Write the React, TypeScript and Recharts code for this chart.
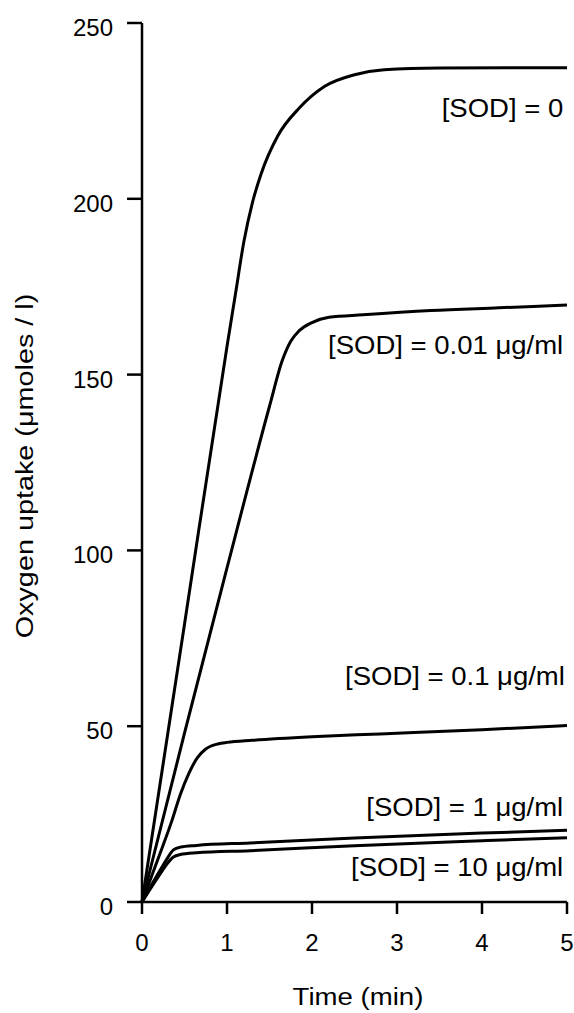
import React from "react";
import { LineChart, Line, XAxis, YAxis, ReferenceDot } from "recharts";

const FONT = "'Liberation Sans', Arial, Helvetica, sans-serif";

// time (min) and oxygen uptake (µmoles / l) for each SOD concentration
const timeSod0 = [0, 0.5, 1.0, 1.1, 1.2, 1.3, 1.4, 1.6, 1.85, 2.15, 2.5, 2.85, 3.5, 5];
const uptakeSod0 = [0, 79, 158, 173, 188, 199, 207, 218, 225.8, 232, 235.3, 236.7, 237.2, 237.3];

const timeSod001 = [0, 0.5, 1.0, 1.5, 1.65, 1.75, 1.85, 2.0, 2.2, 2.6, 3.4, 4.2, 5];
const uptakeSod001 = [0, 48, 95, 141, 154, 159.5, 162.5, 164.8, 166.3, 167, 168.2, 169, 169.8];

const timeSod01 = [0, 0.2, 0.35, 0.45, 0.55, 0.65, 0.75, 0.9, 1.0, 1.3, 2.0, 2.8, 4.0, 5];
const uptakeSod01 = [0, 13, 23, 30.5, 36.5, 41, 43.5, 45, 45.4, 46, 47, 47.8, 49, 50.2];

const timeSod1 = [0, 0.2, 0.3, 0.37, 0.45, 0.64, 1.27, 2.5, 4.0, 5];
const uptakeSod1 = [0, 8.5, 12.5, 14.8, 15.6, 16.1, 16.8, 18.2, 19.6, 20.4];

const timeSod10 = [0, 0.2, 0.3, 0.37, 0.45, 0.64, 1.27, 2.5, 4.0, 5];
const uptakeSod10 = [0, 7.5, 11, 12.8, 13.5, 14.0, 14.6, 16.0, 17.4, 18.3];

const xTicks = [0, 1, 2, 3, 4, 5];
const yTicks = [0, 50, 100, 150, 200, 250];

// curve labels, anchored at their right end / baseline
const labelText = [
  "[SOD] = 0",
  "[SOD] = 0.01 \u03bcg/ml",
  "[SOD] = 0.1 \u03bcg/ml",
  "[SOD] = 1 \u03bcg/ml",
  "[SOD] = 10 \u03bcg/ml",
];
const labelTime = [4.955, 4.955, 4.975, 4.955, 4.955];
const labelUptake = [223.3, 156, 61.7, 24.5, 7.4];

const toPoints = (ts: number[], vs: number[]) => ts.map((t, i) => ({ t, v: vs[i] }));

const series = [
  toPoints(timeSod0, uptakeSod0),
  toPoints(timeSod001, uptakeSod001),
  toPoints(timeSod01, uptakeSod01),
  toPoints(timeSod1, uptakeSod1),
  toPoints(timeSod10, uptakeSod10),
];

function XTick({ x, y, payload }: any) {
  return (
    <text x={x} y={y} dy={21} textAnchor="middle" fontSize={24} fontFamily={FONT} fill="#000">
      {payload.value}
    </text>
  );
}

function YTick({ x, y, payload }: any) {
  return (
    <text x={x} y={y} dy={13} textAnchor="end" fontSize={24} fontFamily={FONT} fill="#000">
      {payload.value}
    </text>
  );
}

function CurveLabel({ cx, cy, text }: any) {
  return (
    <text
      transform={`translate(${cx} ${cy}) scale(1.1 1)`}
      textAnchor="end"
      fontSize={25}
      fontFamily={FONT}
      fill="#000"
    >
      {text}
    </text>
  );
}

export default function App() {
  return (
    <div style={{ position: "absolute", left: 0, top: 0, background: "#fff" }}>
      <LineChart width={574} height={1013} margin={{ top: 23, right: 7, bottom: 0, left: 0 }}>
        <XAxis
          type="number"
          dataKey="t"
          domain={[0, 5]}
          ticks={xTicks}
          height={111}
          tickSize={12}
          tickMargin={16}
          tick={<XTick />}
          axisLine={{ stroke: "#000", strokeWidth: 2.5 }}
          tickLine={{ stroke: "#000", strokeWidth: 2.5 }}
          label={{
            content: () => (
              <text
                transform="translate(358 1005) scale(1.15 1)"
                textAnchor="middle"
                fontSize={24}
                fontFamily={FONT}
                fill="#000"
              >
                Time (min)
              </text>
            ),
          }}
        />
        <YAxis
          type="number"
          domain={[0, 250]}
          ticks={yTicks}
          width={142}
          tickSize={15}
          tickMargin={14}
          tick={<YTick />}
          axisLine={{ stroke: "#000", strokeWidth: 2.5 }}
          tickLine={{ stroke: "#000", strokeWidth: 2.5 }}
          label={{
            content: () => (
              <text
                transform="translate(33 466) rotate(-90) scale(1.2 1)"
                textAnchor="middle"
                fontSize={24}
                fontFamily={FONT}
                fill="#000"
              >
                Oxygen uptake ({"\u03bc"}moles / l)
              </text>
            ),
          }}
        />
        {series.map((data, i) => (
          <Line
            key={i}
            data={data}
            dataKey="v"
            type="monotone"
            stroke="#000"
            strokeWidth={3}
            dot={false}
            activeDot={false}
            isAnimationActive={false}
          />
        ))}
        {labelText.map((text, i) => (
          <ReferenceDot
            key={text}
            x={labelTime[i]}
            y={labelUptake[i]}
            r={0}
            shape={(p: any) => <CurveLabel cx={p.cx} cy={p.cy} text={text} />}
          />
        ))}
      </LineChart>
    </div>
  );
}
